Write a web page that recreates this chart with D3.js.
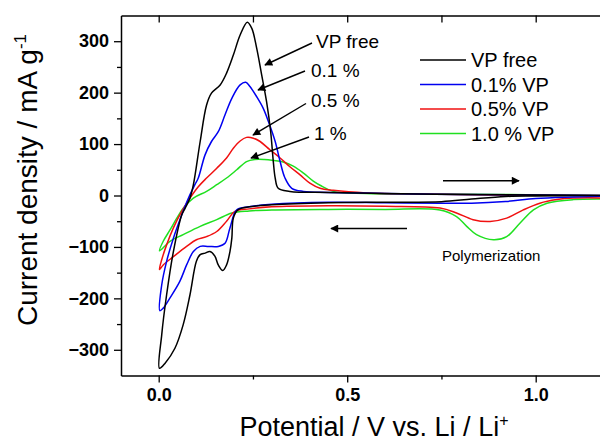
<!DOCTYPE html>
<html>
<head>
<meta charset="utf-8">
<script src="https://cdn.jsdelivr.net/npm/d3@7"></script>
<style>
  html, body { margin: 0; padding: 0; background: #fff; }
  svg { display: block; font-family: "Liberation Sans", Arial, Helvetica, sans-serif; }
</style>
</head>
<body>
<svg id="chart" width="600" height="443"></svg>
<script>
// ---- Data (potential in V vs Li/Li+, current density in mA g^-1) ----
const seriesNames = ["VP free", "0.1% VP", "0.5% VP", "1.0 % VP"];
const seriesColors = ["#000000", "#0000f0", "#f01010", "#20e020"];
const annotationLabels = ["VP free", "0.1 %", "0.5 %", "1 %"];

const vpFreePotential = [1.2, 1.1, 1.0, 0.92, 0.83, 0.75, 0.6, 0.45, 0.3, 0.24, 0.21, 0.198, 0.194, 0.189, 0.18, 0.17, 0.158, 0.149, 0.136, 0.123, 0.11, 0.10, 0.083, 0.065, 0.043, 0.017, 0.002,
  0.008, 0.021, 0.039, 0.061, 0.07, 0.083, 0.092, 0.11, 0.127, 0.14, 0.163, 0.18, 0.198, 0.216, 0.235, 0.247, 0.26, 0.273, 0.286, 0.297, 0.304, 0.309, 0.317, 0.348, 0.45, 0.6, 0.8, 1.0, 1.2];
const vpFreeCurrent = [0, 0, -1, -2, -7, -12, -13, -14, -18, -22, -28, -44, -83, -109, -135, -146, -135, -118, -109, -112, -115, -128, -193, -251, -297, -326, -336,
  -271, -193, -109, -38, -25, -5, 21, 105, 176, 199, 215, 238, 273, 312, 337, 325, 286, 235, 183, 124, 66, 34, 14, 8, 6, 4, 2, 1, 0];

const vp01Potential = [1.2, 1.1, 1.0, 0.92, 0.83, 0.75, 0.6, 0.45, 0.3, 0.24, 0.207, 0.189, 0.176, 0.158, 0.132, 0.11, 0.092, 0.074, 0.056, 0.03, 0.012, 0.003,
  0.008, 0.021, 0.039, 0.061, 0.079, 0.096, 0.105, 0.123, 0.14, 0.158, 0.176, 0.194, 0.216, 0.231, 0.242, 0.26, 0.277, 0.291, 0.309, 0.322, 0.335, 0.353, 0.384, 0.45, 0.6, 0.8, 1.0, 1.2];
const vp01Current = [-1, -3, -6, -11.7, -15, -15, -14, -13, -17, -22, -28, -63, -93, -99, -99, -99, -109, -135, -167, -199, -219, -224,
  -174, -128, -83, -38, -5, 21, 34, 79, 105, 124, 157, 189, 215, 220, 212, 192, 170, 144, 105, 66, 34, 14, 8, 6, 4, 2, 1, 0];

const vp05Potential = [1.2, 1.1, 1.056, 1.011, 0.967, 0.923, 0.879, 0.834, 0.79, 0.746, 0.6, 0.45, 0.3, 0.24, 0.202, 0.18, 0.154, 0.127, 0.10, 0.074, 0.039, 0.012, 0.002,
  0.008, 0.021, 0.039, 0.061, 0.083, 0.105, 0.127, 0.154, 0.18, 0.198, 0.216, 0.233, 0.251, 0.269, 0.295, 0.322, 0.348, 0.375, 0.401, 0.428, 0.463, 0.55, 0.7, 0.9, 1.2];
const vp05Current = [-5, -5, -8, -15, -28, -44, -50.5, -47, -34, -24.5, -21, -20, -22, -26, -31, -50, -70, -80, -86, -99, -119, -135, -144,
  -125, -96, -63, -31, -5, 17, 34, 53, 73, 92, 106, 113, 111.5, 105, 89, 73, 56, 40, 24, 14, 10, 5, 3, 1, 0];

const vp10Potential = [1.2, 1.1, 1.03, 0.994, 0.958, 0.923, 0.888, 0.843, 0.817, 0.79, 0.746, 0.6, 0.45, 0.3, 0.24, 0.194, 0.154, 0.11, 0.065, 0.03, 0.002,
  0.012, 0.03, 0.048, 0.065, 0.092, 0.127, 0.154, 0.18, 0.207, 0.233, 0.255, 0.28, 0.305, 0.33, 0.357, 0.384, 0.41, 0.428, 0.463, 0.55, 0.7, 0.9, 1.2];
const vp10Current = [-7, -8, -15, -28, -54, -80, -86, -76, -60, -41, -28, -27, -27, -28, -30, -34, -47, -60, -76, -89, -107.5,
  -89, -67, -44, -24.5, -5, 8, 21, 34, 50, 66, 70, 70, 68, 65, 57, 43.5, 28, 20, 8, 4, 3, 2, 0];

const xMajorTicks = [0.0, 0.5, 1.0];
const xMinorTicks = [0.25, 0.75];
const yMajorTicks = [-300, -200, -100, 0, 100, 200, 300];
const yMinorTicks = [-250, -150, -50, 50, 150, 250];

// ---- Build ----
const svg = d3.select("#chart");
const x = d3.scaleLinear().domain([-0.1, 1.2]).range([121, 611.1]);
const y = d3.scaleLinear().domain([-350, 350]).range([375.5, 15.5]);

const series = [
  {pot: vpFreePotential, cur: vpFreeCurrent},
  {pot: vp01Potential, cur: vp01Current},
  {pot: vp05Potential, cur: vp05Current},
  {pot: vp10Potential, cur: vp10Current}
].map((s, i) => ({name: seriesNames[i], color: seriesColors[i], pts: s.pot.map((p, j) => [p, s.cur[j]])}));

const line = d3.line().x(d => x(d[0])).y(d => y(d[1])).curve(d3.curveCatmullRom.alpha(0.5));

// draw curves (last series first so black ends on top)
svg.append("g").selectAll("path").data(series.slice().reverse()).join("path")
  .attr("d", d => line(d.pts))
  .attr("fill", "none")
  .attr("stroke", d => d.color)
  .attr("stroke-width", 1.5)
  .attr("stroke-linejoin", "round");

// axes
const tickFont = g => g.selectAll("text").attr("font-size", 18).attr("font-weight", "bold")
  .attr("fill", "#000").attr("font-family", "Liberation Sans, Arial, sans-serif");
const axisStyle = g => { g.select(".domain").attr("stroke-width", 1.5); g.selectAll(".tick line").attr("stroke-width", 1.3); };

svg.append("g").attr("transform", `translate(0,${y(-350)})`)
  .call(d3.axisBottom(x).tickValues(xMajorTicks).tickFormat(d3.format(".1f")).tickSize(7).tickSizeOuter(0).tickPadding(6))
  .call(tickFont).call(axisStyle);
svg.append("g").attr("transform", `translate(0,${y(-350)})`)
  .call(d3.axisBottom(x).tickValues(xMinorTicks).tickFormat("").tickSize(4).tickSizeOuter(0))
  .call(g => g.select(".domain").remove()).call(axisStyle);

svg.append("g").attr("transform", `translate(0,${y(350)})`)
  .call(d3.axisTop(x).tickValues(xMajorTicks.concat(xMinorTicks)).tickFormat("").tickSize(-7).tickSizeOuter(0))
  .call(axisStyle);

svg.append("g").attr("transform", `translate(${x(-0.1)},0)`)
  .call(d3.axisLeft(y).tickValues(yMajorTicks).tickSize(7).tickSizeOuter(0).tickPadding(5))
  .call(tickFont).call(axisStyle);
svg.append("g").attr("transform", `translate(${x(-0.1)},0)`)
  .call(d3.axisLeft(y).tickValues(yMinorTicks).tickFormat("").tickSize(4).tickSizeOuter(0))
  .call(g => g.select(".domain").remove()).call(axisStyle);

// axis titles
const yt = svg.append("text")
  .attr("transform", "translate(37,180) rotate(-90)")
  .attr("text-anchor", "middle")
  .attr("font-size", 28);
yt.append("tspan").text("Current density / mA g");
yt.append("tspan").attr("dy", -11).attr("font-size", 17).text("-1");

const xt = svg.append("text")
  .attr("x", 374).attr("y", 436)
  .attr("text-anchor", "middle")
  .attr("font-size", 27);
xt.append("tspan").text("Potential / V vs. Li / Li");
xt.append("tspan").attr("dy", -10).attr("font-size", 16).text("+");

// legend
const legY0 = 60, legStep = 24.5;
const leg = svg.append("g");
series.forEach((s, i) => {
  const ly = legY0 + i * legStep;
  leg.append("line").attr("x1", 420).attr("x2", 466).attr("y1", ly).attr("y2", ly)
    .attr("stroke", s.color).attr("stroke-width", 1.5);
  leg.append("text").attr("x", 471).attr("y", ly + 7).attr("font-size", 20).text(s.name);
});

// arrow marker
const defs = svg.append("defs");
defs.append("marker").attr("id", "ah").attr("viewBox", "0 0 10 10")
  .attr("refX", 9).attr("refY", 5).attr("markerWidth", 11).attr("markerHeight", 8)
  .attr("markerUnits", "userSpaceOnUse").attr("orient", "auto")
  .append("path").attr("d", "M0,0 L10,5 L0,10 Z").attr("fill", "#000");

// annotations with arrows
const annPos = [
  {tx: 316, ty: 48, x1: 312, y1: 43, x2: 265, y2: 65},
  {tx: 311, ty: 76.5, x1: 305, y1: 71, x2: 258, y2: 90},
  {tx: 311, ty: 106.5, x1: 306, y1: 103.5, x2: 253, y2: 135},
  {tx: 314, ty: 140, x1: 309, y1: 137, x2: 251, y2: 158}
];
annPos.forEach((a, i) => {
  svg.append("line").attr("x1", a.x1).attr("y1", a.y1).attr("x2", a.x2).attr("y2", a.y2)
    .attr("stroke", "#000").attr("stroke-width", 1.4).attr("marker-end", "url(#ah)");
  svg.append("text").attr("x", a.tx).attr("y", a.ty).attr("font-size", 19).text(annotationLabels[i]);
});

// sweep direction arrows
svg.append("line").attr("x1", 443).attr("y1", 180.7).attr("x2", 519).attr("y2", 180.7)
  .attr("stroke", "#000").attr("stroke-width", 1.4).attr("marker-end", "url(#ah)");
svg.append("line").attr("x1", 407).attr("y1", 228.5).attr("x2", 331).attr("y2", 228.5)
  .attr("stroke", "#000").attr("stroke-width", 1.4).attr("marker-end", "url(#ah)");

svg.append("text").attr("x", 442).attr("y", 260.5).attr("font-size", 15).text("Polymerization");
</script>
</body>
</html>
